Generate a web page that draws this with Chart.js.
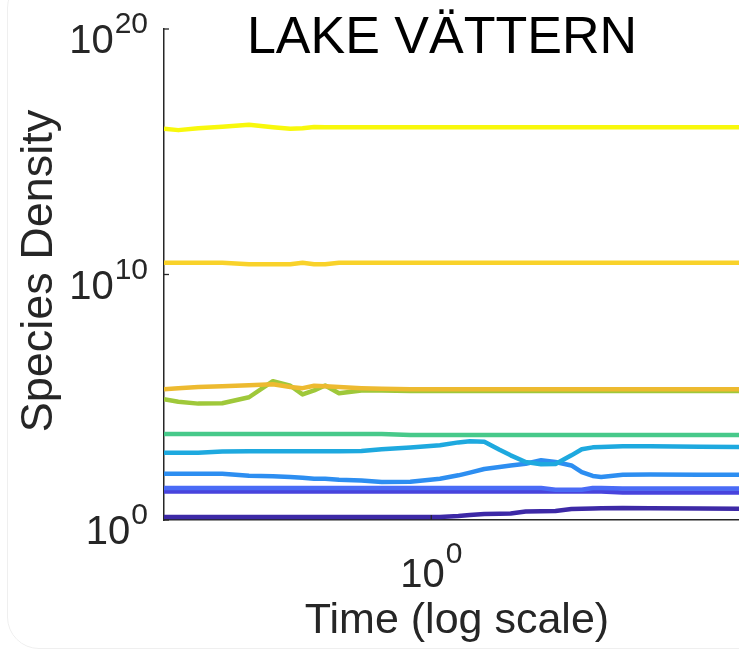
<!DOCTYPE html>
<html>
<head>
<meta charset="utf-8">
<title>Lake Vättern</title>
<script src="https://cdn.jsdelivr.net/npm/chart.js@4.4.1/dist/chart.umd.min.js"></script>
<style>
  html, body { margin: 0; padding: 0; background: #fff; overflow: hidden; }
  #wrap { position: relative; width: 739px; height: 651px; }
  #frame { position: absolute; left: 7px; top: -24px; width: 800px; height: 671px;
           border: 1px solid #efefef; border-radius: 32px; pointer-events: none; }
  canvas { display: block; }
</style>
</head>
<body>
<div id="wrap">
  <div id="frame"></div>
  <canvas id="densityChart" width="739" height="651"></canvas>
</div>
<script>
// time points (log scale), shared by all species
const times = [0.30, 0.32, 0.35, 0.39, 0.44, 0.49, 0.53, 0.56, 0.59, 0.62, 0.66, 0.73, 0.80, 0.91, 1.04, 1.13,
               1.19, 1.27, 1.36, 1.43, 1.53, 1.64, 1.75, 1.88, 1.97, 2.07, 2.15, 2.37, 2.68, 3.36, 4.0];

// species densities
const sp10 = [8.7e15, 7.6e15, 9.1e15, 1.05e16, 1.26e16, 1.0e16, 8.7e15, 9.1e15, 1.02e16, 1.0e16, 1.0e16, 1.0e16,
              1.0e16, 1.0e16, 1.0e16, 1.0e16, 1.0e16, 1.0e16, 1.0e16, 1.0e16, 1.0e16, 1.0e16, 1.0e16, 1.0e16,
              1.0e16, 1.0e16, 1.0e16, 1.0e16, 1.0e16, 1.0e16, 1.0e16];
const sp9 = [3.0e10, 3.0e10, 3.0e10, 3.0e10, 2.6e10, 2.6e10, 2.6e10, 3.0e10, 2.6e10, 2.6e10, 3.0e10, 3.0e10,
             3.0e10, 3.0e10, 3.0e10, 3.0e10, 3.0e10, 3.0e10, 3.0e10, 3.0e10, 3.0e10, 3.0e10, 3.0e10, 3.0e10,
             3.0e10, 3.0e10, 3.0e10, 3.0e10, 3.0e10, 3.0e10, 3.0e10];
const sp8 = [2.1e5, 2.35e5, 2.6e5, 2.8e5, 3.1e5, 3.4e5, 2.6e5, 2.35e5, 2.95e5, 2.8e5, 2.6e5, 2.35e5,
             2.2e5, 2.1e5, 2.1e5, 2.1e5, 2.1e5, 2.1e5, 2.1e5, 2.1e5, 2.1e5, 2.1e5, 2.1e5, 2.1e5,
             2.1e5, 2.1e5, 2.1e5, 2.1e5, 2.1e5, 2.1e5, 2.1e5];
const sp7 = [8.3e4, 6.6e4, 5.5e4, 5.7e4, 1.0e5, 4.5e5, 2.95e5, 1.3e5, 1.9e5, 3.0e5, 1.45e5, 1.9e5,
             1.9e5, 1.8e5, 1.8e5, 1.8e5, 1.8e5, 1.8e5, 1.8e5, 1.8e5, 1.8e5, 1.8e5, 1.8e5, 1.8e5,
             1.8e5, 1.8e5, 1.8e5, 1.8e5, 1.8e5, 1.8e5, 1.8e5];
const sp6 = [3.2e3, 3.2e3, 3.2e3, 3.2e3, 3.2e3, 3.2e3, 3.2e3, 3.2e3, 3.2e3, 3.2e3, 3.2e3, 3.2e3,
             3.2e3, 2.9e3, 2.9e3, 2.9e3, 2.9e3, 2.9e3, 2.9e3, 2.9e3, 2.9e3, 2.9e3, 2.9e3, 2.9e3,
             2.9e3, 2.9e3, 2.9e3, 2.9e3, 2.9e3, 2.9e3, 2.9e3];
const sp5 = [550, 550, 550, 620, 625, 625, 625, 625, 625, 625, 625, 640, 755, 900, 1100, 1450,
             1600, 1550, 720, 430, 230, 185, 190, 430, 760, 910, 950, 1000, 1000, 960, 930];
const sp4 = [77, 77, 77, 77, 64, 61, 56, 53, 48, 48, 44, 41, 35, 36, 48, 66,
             85, 120, 144, 167, 195, 270, 230, 167, 89, 62, 57, 70, 72, 70, 69];
const sp3 = [20, 20, 20, 20, 20, 20, 20, 20, 20, 20, 20, 20, 20, 20, 20, 20,
             20, 20, 20, 20, 20, 20, 17, 17, 17, 20, 20, 19.3, 19.3, 19.3, 19.3];
const sp2 = [14.6, 14.6, 14.6, 14.6, 14.6, 14.6, 14.6, 14.6, 14.6, 14.6, 14.6, 14.6, 14.6, 14.6, 14.6, 14.6,
             14.6, 14.6, 14.6, 14.6, 14.6, 14.6, 14.6, 14.6, 14.6, 14.6, 14.6, 13.3, 13.3, 13.3, 13.3];
const sp1 = [1.33, 1.33, 1.33, 1.33, 1.33, 1.33, 1.33, 1.33, 1.33, 1.33, 1.33, 1.33, 1.33, 1.33, 1.33, 1.46,
             1.6, 1.76, 1.8, 1.84, 2.2, 2.26, 2.33, 2.81, 2.85, 2.95, 3.0, 3.09, 3.0, 2.95, 2.87];

// first entry is drawn on top
const seriesList = [sp10, sp9, sp8, sp7, sp6, sp5, sp4, sp3, sp2, sp1];
const seriesColors = ['#f8f80c', '#f9d22a', '#edba30', '#9fc83a', '#47c98a',
                      '#1ea9df', '#2d8ef1', '#4a6bf6', '#4843dd', '#3d29a6'];

const xTicks = [1];
const yTicks = [1, 1e10, 1e20];

const FONT = '"Liberation Sans", Arial, Helvetica, sans-serif';
const TEXT = '#262626';

function supLabel(ctx, exp, x, baseY, expY, align) {
  ctx.font = '30px ' + FONT;
  const ew = ctx.measureText(exp).width;
  ctx.font = '40px ' + FONT;
  const bw = ctx.measureText('10').width;
  let left = align === 'right' ? x - ew - bw - 1 : x - (ew + bw + 1) / 2;
  ctx.textAlign = 'left';
  ctx.fillText('10', left, baseY);
  ctx.font = '30px ' + FONT;
  ctx.fillText(exp, left + bw + 1, expY);
}

const axisText = {
  id: 'axisText',
  afterDraw(chart) {
    const ctx = chart.ctx;
    const area = chart.chartArea;
    const xs = chart.scales.x, ys = chart.scales.y;
    ctx.save();

    // inward tick marks
    ctx.strokeStyle = TEXT;
    ctx.lineWidth = 1.3;
    ys.ticks.forEach(t => {
      const py = ys.getPixelForValue(t.value);
      ctx.beginPath(); ctx.moveTo(area.left, py); ctx.lineTo(area.left + 5, py); ctx.stroke();
    });
    xs.ticks.forEach(t => {
      const px = xs.getPixelForValue(t.value);
      ctx.beginPath(); ctx.moveTo(px, area.bottom); ctx.lineTo(px, area.bottom - 5); ctx.stroke();
    });

    // tick labels as 10^n
    ctx.fillStyle = TEXT;
    ctx.textBaseline = 'alphabetic';
    ys.ticks.forEach(t => {
      const py = ys.getPixelForValue(t.value);
      const exp = String(Math.round(Math.log10(t.value)));
      supLabel(ctx, exp, area.left - 16, py + 24, py + 4, 'right');
    });
    xs.ticks.forEach(t => {
      const px = xs.getPixelForValue(t.value);
      const exp = String(Math.round(Math.log10(t.value)));
      supLabel(ctx, exp, px, area.bottom + 67, area.bottom + 43, 'center');
    });

    // axis titles
    ctx.textAlign = 'center';
    ctx.font = '43px ' + FONT;
    ctx.fillText('Time (log scale)', 457, 633);
    ctx.save();
    ctx.translate(52, 271);
    ctx.rotate(-Math.PI / 2);
    ctx.font = '45px ' + FONT;
    ctx.fillText('Species Density', 0, 0);
    ctx.restore();

    // title
    ctx.fillStyle = '#000';
    ctx.font = '52px ' + FONT;
    ctx.fillText('LAKE VÄTTERN', 442, 53);
    ctx.restore();
  }
};

const datasets = seriesList.map((vals, i) => ({
  data: vals.map((v, j) => ({ x: times[j], y: v })),
  borderColor: seriesColors[i],
  backgroundColor: seriesColors[i],
  borderWidth: 4.5,
  pointRadius: 0,
  tension: 0,
  fill: false,
  borderJoinStyle: 'round'
}));

new Chart(document.getElementById('densityChart'), {
  type: 'line',
  data: { datasets: datasets },
  plugins: [axisText],
  options: {
    responsive: false,
    animation: false,
    devicePixelRatio: 1,
    layout: { padding: { left: 164, top: 29, right: 0, bottom: 131 } },
    plugins: { legend: { display: false }, tooltip: { enabled: false } },
    scales: {
      x: {
        type: 'logarithmic',
        min: 0.3,
        max: 4,
        afterBuildTicks: s => { s.ticks = xTicks.map(v => ({ value: v })); },
        ticks: { display: false },
        grid: { display: false, drawTicks: false },
        border: { display: true, color: TEXT, width: 1.5 }
      },
      y: {
        type: 'logarithmic',
        min: 1,
        max: 1e20,
        afterBuildTicks: s => { s.ticks = yTicks.map(v => ({ value: v })); },
        ticks: { display: false },
        grid: { display: false, drawTicks: false },
        border: { display: true, color: TEXT, width: 1.5 }
      }
    }
  }
});
</script>
</body>
</html>
